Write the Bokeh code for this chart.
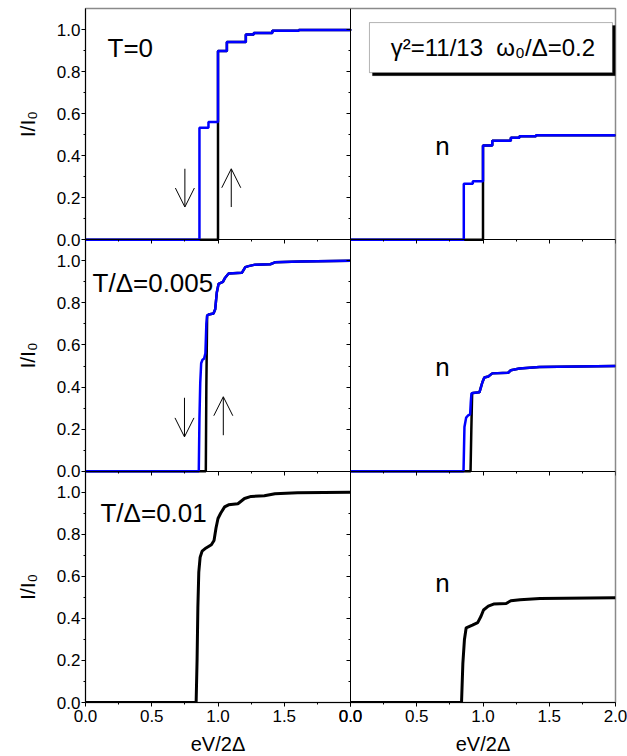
import math
from bokeh.plotting import figure
from bokeh.layouts import column, row
from bokeh.models import (Range1d, LinearAxis, FixedTicker, Label, BoxAnnotation,
                          Arrow, OpenHead, CustomJSTickFormatter)
from bokeh.embed import file_html
from bokeh.resources import INLINE

FONT = "Liberation Sans"
BLUE = "#0000ff"
BLACK = "#000000"

# ---------------- data ----------------
# row 1: T = 0 (step curves)
t0_blue_x = [0.0, 0.86, 0.928, 1.0, 1.067, 1.21, 1.27, 1.41, 1.61, 2.0]
t0_blue_y = [0.0, 0.533, 0.56, 0.898, 0.941, 0.976, 0.984, 0.994, 0.998, 1.0]
t0_black_x = [0.0, 1.0, 1.067, 1.21, 1.27, 1.41, 1.61, 2.0]
t0_black_y = [0.0, 0.898, 0.941, 0.976, 0.984, 0.994, 0.998, 1.0]
t0n_blue_x = [0.0, 0.855, 0.923, 1.0, 1.07, 1.21, 1.275, 1.40, 2.0]
t0n_blue_y = [0.0, 0.267, 0.278, 0.449, 0.471, 0.486, 0.492, 0.497, 0.5]
t0n_black_x = [0.0, 1.0, 1.07, 1.21, 1.275, 1.40, 2.0]
t0n_black_y = [0.0, 0.449, 0.471, 0.486, 0.492, 0.497, 0.5]

# row 2: T/Delta = 0.005
t1_blue_x = [0.0, 0.855, 0.86, 0.866, 0.873, 0.883, 0.895, 0.905, 0.912, 0.918, 0.93,
             0.966, 0.979, 0.991, 1.004, 1.037, 1.054, 1.08, 1.18, 1.206, 1.23, 1.28,
             1.395, 1.43, 1.62, 2.0]
t1_blue_y = [0.0, 0.0, 0.25, 0.42, 0.513, 0.53, 0.535, 0.56, 0.7, 0.74, 0.745,
             0.75, 0.77, 0.85, 0.89, 0.9, 0.92, 0.94, 0.943, 0.97, 0.975, 0.982,
             0.984, 0.993, 0.997, 1.0]
t1_black_x = [0.0, 0.908, 0.912, 0.918, 0.93, 0.966, 0.979, 0.991, 1.004, 1.037, 1.054,
              1.08, 1.18, 1.206, 1.23, 1.28, 1.395, 1.43, 1.62, 2.0]
t1_black_y = [0.0, 0.0, 0.4, 0.74, 0.745, 0.75, 0.77, 0.85, 0.89, 0.9, 0.92,
              0.94, 0.943, 0.97, 0.975, 0.982, 0.984, 0.993, 0.997, 1.0]
t1n_blue_x = [0.0, 0.853, 0.86, 0.873, 0.888, 0.903, 0.908, 0.913, 0.923, 0.973, 0.994,
              1.01, 1.04, 1.07, 1.19, 1.21, 1.275, 1.426, 2.0]
t1n_blue_y = [0.0, 0.0, 0.21, 0.255, 0.265, 0.27, 0.33, 0.37, 0.372, 0.375, 0.42,
              0.445, 0.45, 0.465, 0.468, 0.48, 0.488, 0.495, 0.5]
t1n_black_x = [0.0, 0.906, 0.912, 0.918, 0.923, 0.973, 0.994, 1.01, 1.04, 1.07, 1.19,
               1.21, 1.275, 1.426, 2.0]
t1n_black_y = [0.0, 0.0, 0.2, 0.37, 0.372, 0.375, 0.42, 0.445, 0.45, 0.465, 0.468,
               0.48, 0.488, 0.495, 0.5]

# row 3: T/Delta = 0.01
t2_x = [0.0, 0.835, 0.842, 0.848, 0.855, 0.865, 0.88, 0.91, 0.95, 0.97, 0.985, 1.0,
        1.02, 1.05, 1.08, 1.15, 1.2, 1.25, 1.35, 1.43, 1.6, 2.0]
t2_y = [0.0, 0.0, 0.2, 0.45, 0.62, 0.69, 0.72, 0.735, 0.75, 0.77, 0.83, 0.875,
        0.9, 0.93, 0.94, 0.945, 0.97, 0.98, 0.983, 0.993, 0.997, 1.0]
t2n_x = [0.0, 0.838, 0.848, 0.86, 0.873, 0.92, 0.96, 0.985, 1.004, 1.04, 1.08, 1.175,
         1.21, 1.28, 1.43, 2.0]
t2n_y = [0.0, 0.0, 0.186, 0.3, 0.355, 0.368, 0.38, 0.41, 0.44, 0.458, 0.468, 0.471,
         0.484, 0.489, 0.495, 0.498]

# ticks (per panel)
x_major = [0.0, 0.5, 1.0, 1.5, 2.0]
x_minor = [0.25, 0.75, 1.25, 1.75]
y_major = [0.0, 0.2, 0.4, 0.6, 0.8, 1.0]
y_minor = [0.1, 0.3, 0.5, 0.7, 0.9]

# texts
row_titles = ["T=0", "T/Δ=0.005", "T/Δ=0.01"]
n_label = "n"
param_text = "γ²=11/13\u00a0\u00a0ω₀/Δ=0.2"
y_title = "I/I₀"
x_title = "eV/2Δ"

# hysteresis arrows (x, y_from, y_to)
arrows_top = [(0.75, 0.338, 0.156), (1.10, 0.156, 0.338)]
arrows_mid = [(0.747, 0.349, 0.163), (1.04, 0.171, 0.354)]

# ---------------- geometry ----------------
PANEL_Y = 1.1          # y extent of one panel
PANEL_X = 2.0          # x extent of one panel
ROW_NAMES = ["top", "mid", "default"]
ROW_OFFSETS = [2 * PANEL_Y, PANEL_Y, 0.0]   # row position inside the main y range
STRIP_W = 45
FRAME_W, FRAME_H = 530, 694
B_LEFT, B_RIGHT, B_TOP, B_BOTTOM = 40, 12, 8, 30
TITLE_H = 22

main = figure(width=B_LEFT + FRAME_W + B_RIGHT, height=B_TOP + FRAME_H + B_BOTTOM,
              output_backend="svg", toolbar_location=None,
              x_range=Range1d(0, 2 * PANEL_X), y_range=Range1d(0, 3 * PANEL_Y),
              x_axis_location=None, y_axis_location=None,
              min_border_left=B_LEFT, min_border_right=B_RIGHT,
              min_border_top=B_TOP, min_border_bottom=B_BOTTOM)
main.extra_x_ranges = {"R": Range1d(-PANEL_X, PANEL_X)}
main.extra_y_ranges = {"top": Range1d(-2 * PANEL_Y, PANEL_Y),
                       "mid": Range1d(-PANEL_Y, 2 * PANEL_Y)}
main.grid.visible = False
main.outline_line_color = "#8a8a8a"
main.outline_line_width = 1.5
main.background_fill_color = "white"
main.border_fill_color = "white"

all_y_major = [o + v for o in ROW_OFFSETS for v in y_major]
all_y_minor = [o + v for o in ROW_OFFSETS for v in y_minor]
all_x_major = [o + v for o in (0.0, PANEL_X) for v in x_major]
all_x_minor = [o + v for o in (0.0, PANEL_X) for v in x_minor]

y_fmt = CustomJSTickFormatter(code="""
    const v = tick - 1.1 * Math.floor((tick + 1e-6) / 1.1);
    return Math.abs(v).toFixed(1);
""")
x_fmt = CustomJSTickFormatter(code="return (tick >= 1.999 ? tick - 2 : tick).toFixed(1);")
blank = CustomJSTickFormatter(code="return ''")


def style_axis(ax, tin, tout, min_in, min_out):
    ax.axis_line_color = BLACK
    ax.axis_line_width = 1
    ax.major_tick_line_color = BLACK
    ax.minor_tick_line_color = BLACK
    ax.major_tick_in, ax.major_tick_out = tin, tout
    ax.minor_tick_in, ax.minor_tick_out = min_in, min_out
    ax.major_label_text_font = FONT
    ax.major_label_text_font_size = "17px"
    ax.major_label_text_color = BLACK


# outer left axis (all three rows)
ya = LinearAxis(ticker=FixedTicker(ticks=all_y_major, minor_ticks=all_y_minor),
                formatter=y_fmt)
style_axis(ya, 0, 4, 0, 2)
ya.major_label_standoff = 1
main.add_layout(ya, "left")

# outer bottom axis (both columns)
xa = LinearAxis(ticker=FixedTicker(ticks=all_x_major, minor_ticks=all_x_minor),
                formatter=x_fmt)
style_axis(xa, 0, 4, 0, 2)
xa.major_label_standoff = 3
main.add_layout(xa, "below")

# column divider with ticks pointing into the left panels
dv = LinearAxis(fixed_location=PANEL_X,
                ticker=FixedTicker(ticks=all_y_major, minor_ticks=all_y_minor),
                formatter=blank)
style_axis(dv, 4, 0, 2, 0)
main.add_layout(dv, "right")

# row dividers with ticks pointing down into the panel below
for loc in (PANEL_Y, 2 * PANEL_Y):
    rd = LinearAxis(fixed_location=loc,
                    ticker=FixedTicker(ticks=all_x_major, minor_ticks=all_x_minor),
                    formatter=blank)
    style_axis(rd, 0, 4, 0, 2)
    main.add_layout(rd, "below")

# ---------------- curves ----------------
LW = 2.5
main.step(t0_black_x, t0_black_y, mode="after", line_color=BLACK, line_width=LW,
          y_range_name="top")
main.step(t0_blue_x, t0_blue_y, mode="after", line_color=BLUE, line_width=LW,
          y_range_name="top")
main.step(t0n_black_x, t0n_black_y, mode="after", line_color=BLACK, line_width=LW,
          x_range_name="R", y_range_name="top")
main.step(t0n_blue_x, t0n_blue_y, mode="after", line_color=BLUE, line_width=LW,
          x_range_name="R", y_range_name="top")

main.line(t1_black_x, t1_black_y, line_color=BLACK, line_width=LW, y_range_name="mid")
main.line(t1_blue_x, t1_blue_y, line_color=BLUE, line_width=LW, y_range_name="mid")
main.line(t1n_black_x, t1n_black_y, line_color=BLACK, line_width=LW,
          x_range_name="R", y_range_name="mid")
main.line(t1n_blue_x, t1n_blue_y, line_color=BLUE, line_width=LW,
          x_range_name="R", y_range_name="mid")

main.line(t2_x, t2_y, line_color=BLACK, line_width=3)
main.line(t2n_x, t2n_y, line_color=BLACK, line_width=3, x_range_name="R")

# ---------------- arrows ----------------
for yname, arrs in [("top", arrows_top), ("mid", arrows_mid)]:
    for ax_, y0, y1 in arrs:
        main.add_layout(Arrow(end=OpenHead(size=19, line_width=1, line_color=BLACK),
                              x_start=ax_, y_start=y0, x_end=ax_, y_end=y1,
                              line_width=1, line_color=BLACK, y_range_name=yname))

# ---------------- panel texts ----------------
title_pos = [(0.166, 0.91), (0.053, 0.896), (0.113, 0.90)]
n_pos = [(0.694, 0.448), (0.694, 0.497), (0.694, 0.566)]
for yname, t, (tx, ty), (nx, ny) in zip(ROW_NAMES, row_titles, title_pos, n_pos):
    main.add_layout(Label(x=tx, y=ty, text=t, y_range_name=yname,
                          text_font=FONT, text_font_size="26px", text_color=BLACK,
                          text_align="left", text_baseline="middle"))
    main.add_layout(Label(x=nx, y=ny, text=n_label, x_range_name="R", y_range_name=yname,
                          text_font=FONT, text_font_size="26px", text_color=BLACK,
                          text_align="center", text_baseline="middle"))

# parameter box with a drop shadow (top right panel)
bx0, bx1, by0, by1 = 0.143, 1.977, 0.795, 1.033
sdx, sdy = 3 / 132.5, 3 / 210.0
main.add_layout(BoxAnnotation(left=bx0 + sdx, right=bx1 + sdx, bottom=by0 - sdy,
                              top=by1 - sdy, x_range_name="R", y_range_name="top",
                              fill_color=BLACK, fill_alpha=1, line_color=BLACK,
                              line_width=1))
main.add_layout(BoxAnnotation(left=bx0, right=bx1, bottom=by0, top=by1,
                              x_range_name="R", y_range_name="top",
                              fill_color="white", fill_alpha=1, line_color=BLACK,
                              line_width=1))
main.add_layout(Label(x=1.075, y=(by0 + by1) / 2, text=param_text,
                      x_range_name="R", y_range_name="top",
                      text_font=FONT, text_font_size="24px", text_color=BLACK,
                      text_align="center", text_baseline="middle"))


# ---------------- axis titles ----------------
def bare(width, height, xr, yr, **borders):
    f = figure(width=width, height=height, output_backend="svg", toolbar_location=None,
               x_range=xr, y_range=yr, x_axis_location=None, y_axis_location=None,
               **borders)
    f.grid.visible = False
    f.outline_line_color = None
    f.background_fill_color = "white"
    f.border_fill_color = "white"
    return f


ystrip = bare(STRIP_W, B_TOP + FRAME_H + B_BOTTOM, Range1d(0, 1), Range1d(0, 3 * PANEL_Y),
              min_border_left=0, min_border_right=0,
              min_border_top=B_TOP, min_border_bottom=B_BOTTOM)
for o in ROW_OFFSETS:
    ystrip.add_layout(Label(x=27 / STRIP_W, y=o + PANEL_Y / 2, text=y_title,
                            angle=math.pi / 2, text_font=FONT, text_font_size="21px",
                            text_color=BLACK, text_align="center",
                            text_baseline="middle"))

xstrip = bare(STRIP_W + B_LEFT + FRAME_W + B_RIGHT, TITLE_H,
              Range1d(0, 2 * PANEL_X), Range1d(0, 1),
              min_border_left=STRIP_W + B_LEFT, min_border_right=B_RIGHT,
              min_border_top=0, min_border_bottom=0)
for o in (0.0, PANEL_X):
    xstrip.add_layout(Label(x=o + PANEL_X / 2, y=0.5, text=x_title,
                            text_font=FONT, text_font_size="20px", text_color=BLACK,
                            text_align="center", text_baseline="middle"))

layout = column(row(ystrip, main), xstrip)
open("out.html", "w").write(file_html(layout, INLINE, title="I-V curves"))
